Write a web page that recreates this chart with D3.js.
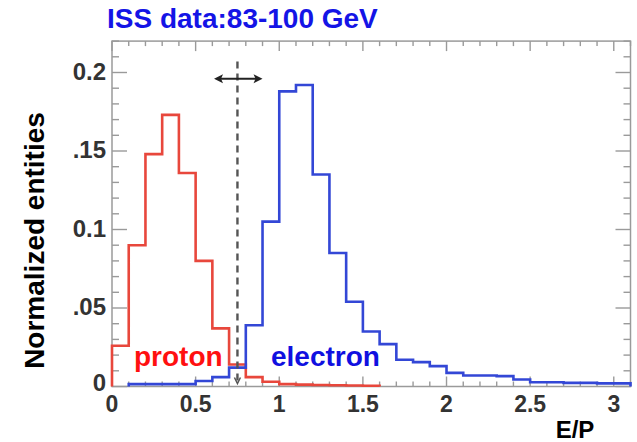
<!DOCTYPE html>
<html><head><meta charset="utf-8">
<script src="https://cdn.jsdelivr.net/npm/d3@7"></script>
<style>body{margin:0;background:#fff}svg{display:block}</style>
</head><body><svg id="c" width="637" height="442"></svg>
<script>
// ---- data ----
const binEdges = [0,0.1,0.2,0.3,0.4,0.5,0.6,0.7,0.8,0.9,1.0,1.1,1.2,1.3,1.4,1.5,1.6,1.7,1.8,1.9,2.0,2.1,2.2,2.3,2.4,2.5,2.6,2.7,2.8,2.9,3.0,3.1];
const protonValues = [0.026,0.090,0.148,0.173,0.136,0.080,0.037,0.014,0.006,0.003,0.0015,0.0012,0.001,0.0008,0.0006,0.0005];
const electronValues = [0,0.0015,0.0015,0.0015,0.0015,0.0035,0.006,0.012,0.039,0.105,0.188,0.192,0.135,0.085,0.054,0.035,0.027,0.017,0.0155,0.013,0.0087,0.007,0.007,0.0066,0.0045,0.0027,0.0027,0.0023,0.0023,0.002,0.002];
const yTicks = [0,0.05,0.1,0.15,0.2];
const yTickLabels = ["0",".05","0.1",".15","0.2"];
const xTicks = [0,0.5,1,1.5,2,2.5,3];
const xTickLabels = ["0","0.5","1","1.5","2","2.5","3"];
const cutValue = 0.75;
const arrowSpan = [0.61,0.90];
const arrowLevel = 0.196;
const cutTop = 0.207;
const titleText = "ISS data:83-100 GeV";
const yTitle = "Normalized entities";
const xTitle = "E/P";
const seriesLabels = ["proton","electron"];

// ---- layout ----
const svg = d3.select("#c");
svg.append("rect").attr("width",637).attr("height",442).attr("fill","#fff");
const x = d3.scaleLinear().domain([0,3.1]).range([112,630.5]);
const y = d3.scaleLinear().domain([0,0.22]).range([386.5,41.1]);
const font = "'Liberation Sans', Arial, Helvetica, sans-serif";
const frameCol = "#9a9a9a";

// ticks (inside, ROOT style) on all four sides
const g = svg.append("g").attr("stroke",frameCol).attr("stroke-width",1.4);
const yMinor = d3.range(0,0.2201,0.01);
yMinor.forEach(v=>{
  const major = Math.abs(v/0.05 - Math.round(v/0.05))<1e-6;
  const L = major?15:7;
  g.append("line").attr("x1",x(0)).attr("x2",x(0)+L).attr("y1",y(v)).attr("y2",y(v));
  g.append("line").attr("x1",x(3.1)).attr("x2",x(3.1)-L).attr("y1",y(v)).attr("y2",y(v));
});
const xMinor = d3.range(0,3.101,0.1);
xMinor.forEach(v=>{
  const major = Math.abs(v/0.5 - Math.round(v/0.5))<1e-6;
  const L = major?10:5;
  g.append("line").attr("x1",x(v)).attr("x2",x(v)).attr("y1",y(0)).attr("y2",y(0)-L);
  g.append("line").attr("x1",x(v)).attr("x2",x(v)).attr("y1",y(0.22)).attr("y2",y(0.22)+L);
});
// frame
svg.append("rect").attr("x",x(0)).attr("y",y(0.22)).attr("width",x(3.1)-x(0)).attr("height",y(0)-y(0.22))
  .attr("fill","none").attr("stroke",frameCol).attr("stroke-width",1.5);

// histograms
function stepPoints(vals){
  let start = vals.findIndex(v=>v>0);
  const pts = [[binEdges[start],0]];
  for(let i=start;i<vals.length;i++){ pts.push([binEdges[i],vals[i]],[binEdges[i+1],vals[i]]); }
  pts.push([binEdges[vals.length],0]);
  return pts;
}
const line = d3.line().x(d=>x(d[0])).y(d=>y(d[1]));
svg.append("path").attr("d",line(stepPoints(protonValues))).attr("fill","none")
  .attr("stroke","#e8473c").attr("stroke-width",2.6).attr("stroke-linejoin","miter");
svg.append("path").attr("d",line(stepPoints(electronValues))).attr("fill","none")
  .attr("stroke","#3347d6").attr("stroke-width",2.6).attr("stroke-linejoin","miter");

// cut line
svg.append("line").attr("x1",x(cutValue)).attr("x2",x(cutValue)).attr("y1",y(cutTop)).attr("y2",y(0)-3)
  .attr("stroke","#555").attr("stroke-width",2.4).attr("stroke-dasharray","7,5");
svg.append("path").attr("d",`M${x(cutValue)-3},${y(0)-9}L${x(cutValue)},${y(0)-3}L${x(cutValue)+3},${y(0)-9}`)
  .attr("fill","none").attr("stroke","#555").attr("stroke-width",1.5);
// double arrow
const ay = y(arrowLevel), ax1 = x(arrowSpan[0]), ax2 = x(arrowSpan[1]);
svg.append("line").attr("x1",ax1+4).attr("x2",ax2-4).attr("y1",ay).attr("y2",ay).attr("stroke","#222").attr("stroke-width",2);
svg.append("path").attr("d",`M${ax1},${ay}L${ax1+9},${ay-4.5}L${ax1+7},${ay}L${ax1+9},${ay+4.5}Z`).attr("fill","#222");
svg.append("path").attr("d",`M${ax2},${ay}L${ax2-9},${ay-4.5}L${ax2-7},${ay}L${ax2-9},${ay+4.5}Z`).attr("fill","#222");

// tick labels
svg.selectAll(".yl").data(yTicks).enter().append("text")
  .attr("x",106).attr("y",(d,i)=> i===0? y(d)+4 : y(d)+7)
  .attr("text-anchor","end").attr("font-family",font).attr("font-weight","bold")
  .attr("font-size",24).attr("fill","#333").text((d,i)=>yTickLabels[i]);
svg.selectAll(".xl").data(xTicks).enter().append("text")
  .attr("x",d=>x(d)).attr("y",412).attr("text-anchor","middle").attr("font-family",font)
  .attr("font-weight","bold").attr("font-size",23).attr("fill","#333").text((d,i)=>xTickLabels[i]);

// titles
svg.append("text").attr("x",107).attr("y",28).attr("font-family",font).attr("font-weight","bold")
  .attr("font-size",28).attr("fill","#1414e6").text(titleText);
svg.append("text").attr("transform","translate(43.5,240.5) rotate(-90)").attr("text-anchor","middle")
  .attr("font-family",font).attr("font-weight","bold").attr("font-size",28).attr("fill","#000").text(yTitle);
svg.append("text").attr("x",575).attr("y",438).attr("text-anchor","middle").attr("font-family",font)
  .attr("font-weight","bold").attr("font-size",24).attr("fill","#000").text(xTitle);

// series labels
svg.append("text").attr("x",134).attr("y",366).attr("font-family",font).attr("font-weight","bold")
  .attr("font-size",28).attr("fill","#ff1010").text(seriesLabels[0]);
svg.append("text").attr("x",271).attr("y",366).attr("font-family",font).attr("font-weight","bold")
  .attr("font-size",28).attr("fill","#1010e0").text(seriesLabels[1]);
</script></body></html>
